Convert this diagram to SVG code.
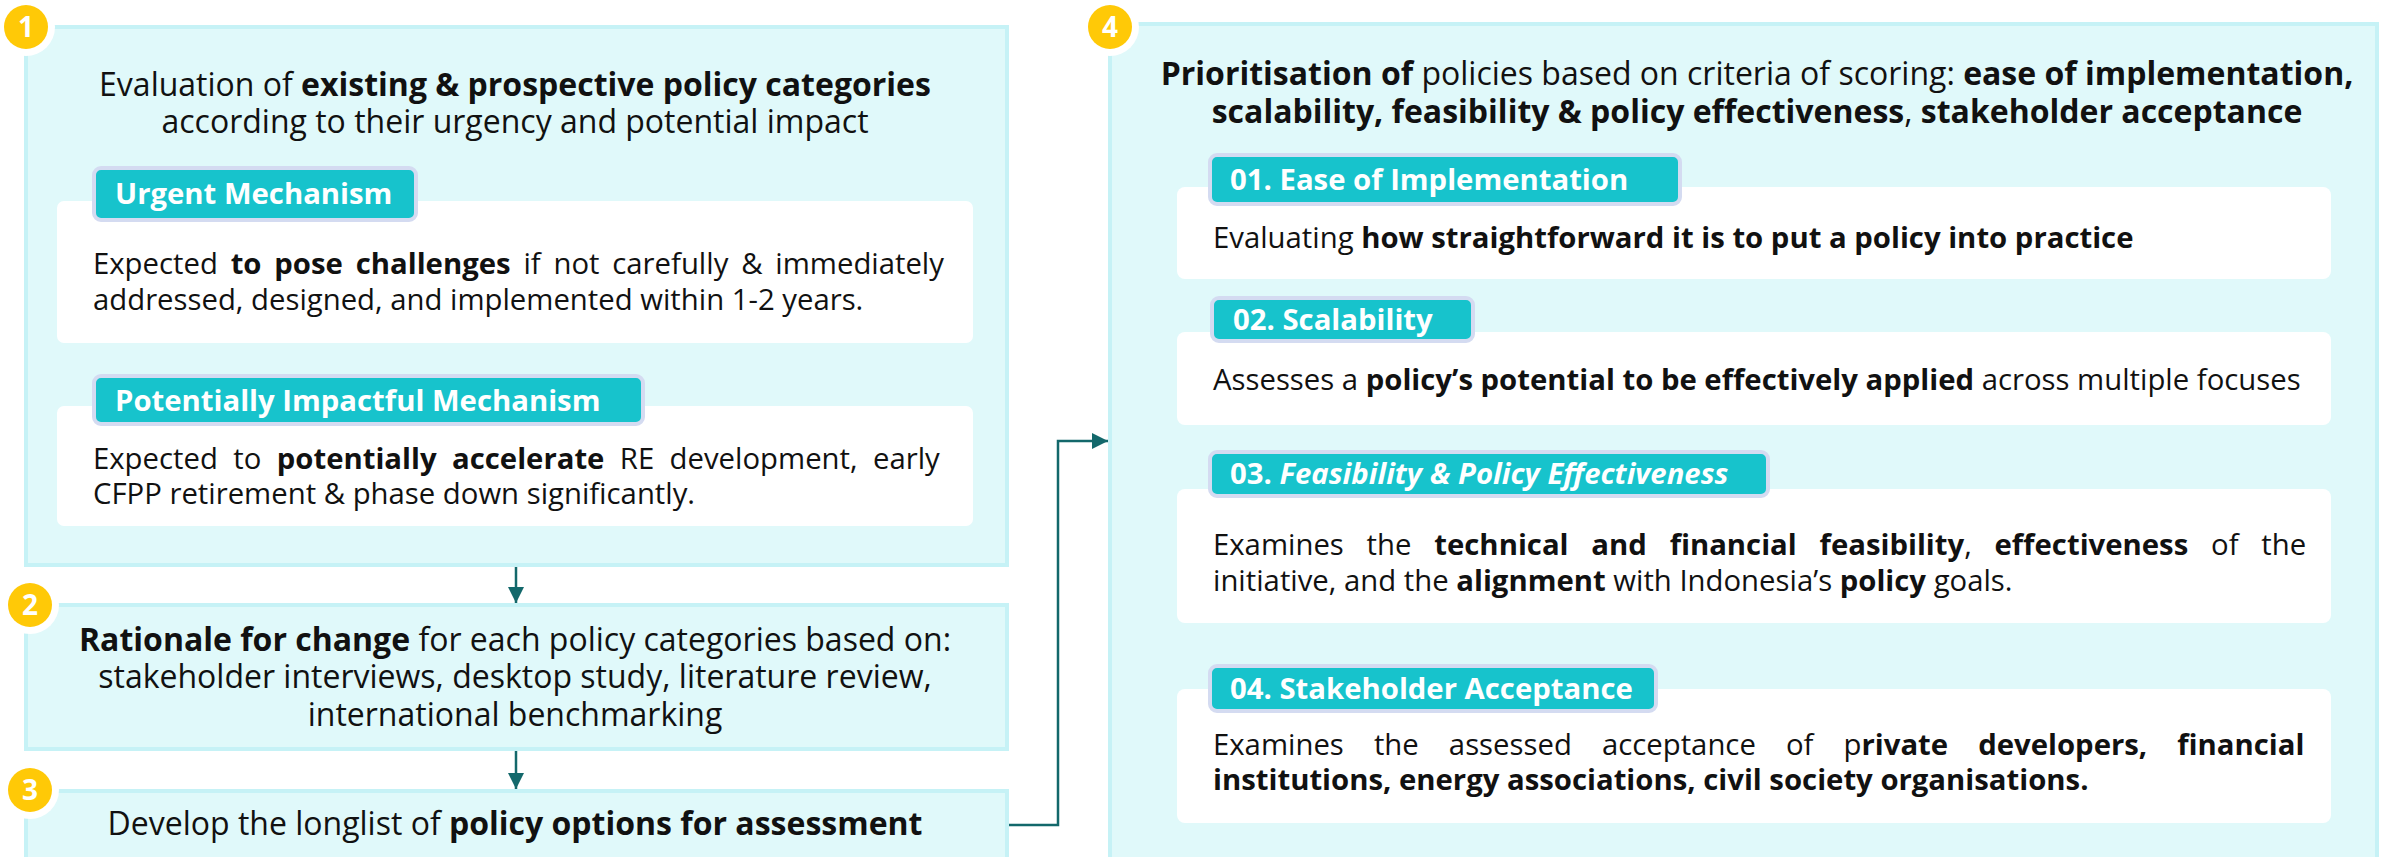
<svg xmlns="http://www.w3.org/2000/svg" width="2392" height="857" viewBox="0 0 2392 857">
  <defs>
    <style>
      text { font-family: "Open Sans", "Noto Sans", "Liberation Sans", sans-serif; fill: #111111; }
      .b { font-weight: 700; }
      .i { font-style: italic; }
      .panel { fill: #e0f9fa; stroke: #c6f2f6; stroke-width: 4; }
      .card { fill: #ffffff; }
      .tag { fill: #17c3cc; stroke: #d4dbf1; stroke-width: 4; }
      .tagtxt { fill: #ffffff; font-weight: 700; font-size: 29.3px; }
      .head { font-size: 32px; text-anchor: middle; }
      .head4 { font-size: 32px; text-anchor: middle; }
      .body { font-size: 29.3px; }
      .ring { fill: #ffffff; }
      .dot { fill: #ffc907; }
      .num { fill: #ffffff; font-weight: 700; font-size: 28px; text-anchor: middle; }
      .link { fill: none; stroke: #13686b; stroke-width: 2.5; }
    </style>
    <marker id="arrow" viewBox="0 0 16 16" refX="16" refY="8" markerWidth="16" markerHeight="16" markerUnits="userSpaceOnUse" orient="auto">
      <path d="M0,0 L16,8 L0,16 Z" fill="#13686b"/>
    </marker>
  </defs>

  <rect width="2392" height="857" fill="#ffffff"/>

  <!-- Step 1: evaluation of policy categories -->
  <g id="step1">
    <rect class="panel" x="26" y="27" width="981" height="538"/>
    <text class="head" x="515" y="96">Evaluation of <tspan class="b">existing &amp; prospective policy categories</tspan></text>
    <text class="head" x="515" y="133">according to their urgency and potential impact</text>

    <rect class="card" x="57" y="201" width="916" height="142" rx="7"/>
    <rect class="tag" x="94" y="168" width="322" height="52" rx="7"/>
    <text class="tagtxt" x="115" y="204">Urgent Mechanism</text>
    <text class="body" x="93" y="274" word-spacing="5.2">Expected <tspan class="b">to pose challenges</tspan> if not carefully &amp; immediately</text>
    <text class="body" x="93" y="310">addressed, designed, and implemented within 1-2 years.</text>

    <rect class="card" x="57" y="406" width="916" height="120" rx="7"/>
    <rect class="tag" x="94" y="376" width="549" height="48" rx="7"/>
    <text class="tagtxt" x="115" y="411">Potentially Impactful Mechanism</text>
    <text class="body" x="93" y="469" word-spacing="7.8">Expected to <tspan class="b">potentially accelerate</tspan> RE development, early</text>
    <text class="body" x="93" y="504">CFPP retirement &amp; phase down significantly.</text>
  </g>

  <!-- Step 2: rationale for change -->
  <g id="step2">
    <rect class="panel" x="26" y="605" width="981" height="144"/>
    <text class="head" x="515" y="651"><tspan class="b">Rationale for change</tspan> for each policy categories based on:</text>
    <text class="head" x="515" y="688">stakeholder interviews, desktop study, literature review,</text>
    <text class="head" x="515" y="726">international benchmarking</text>
  </g>

  <!-- Step 3: longlist of policy options -->
  <g id="step3">
    <rect class="panel" x="26" y="791" width="981" height="90"/>
    <text class="head" x="515" y="835">Develop the longlist of <tspan class="b">policy options for assessment</tspan></text>
  </g>

  <!-- Step 4: prioritisation by scoring criteria -->
  <g id="step4">
    <rect class="panel" x="1110" y="24" width="1267" height="860"/>
    <text class="head4" x="1757" y="85"><tspan class="b">Prioritisation of</tspan> policies based on criteria of scoring: <tspan class="b">ease of implementation,</tspan></text>
    <text class="head4" x="1757" y="123"><tspan class="b">scalability, feasibility &amp; policy effectiveness</tspan>, <tspan class="b">stakeholder acceptance</tspan></text>

    <g id="criterion1">
      <rect class="card" x="1177" y="187" width="1154" height="92" rx="8"/>
      <rect class="tag" x="1210" y="155" width="470" height="49" rx="7"/>
      <text class="tagtxt" x="1230" y="190">01. Ease of Implementation</text>
      <text class="body" x="1213" y="248">Evaluating <tspan class="b">how straightforward it is to put a policy into practice</tspan></text>
    </g>

    <g id="criterion2">
      <rect class="card" x="1177" y="332" width="1154" height="93" rx="8"/>
      <rect class="tag" x="1212" y="298" width="261" height="43" rx="7"/>
      <text class="tagtxt" x="1233" y="330">02. Scalability</text>
      <text class="body" x="1213" y="390">Assesses a <tspan class="b">policy’s potential to be effectively applied</tspan> across multiple focuses</text>
    </g>

    <g id="criterion3">
      <rect class="card" x="1177" y="489" width="1154" height="134" rx="8"/>
      <rect class="tag" x="1210" y="452" width="558" height="44" rx="7"/>
      <text class="tagtxt" x="1230" y="484">03. <tspan class="i">Feasibility &amp; Policy Effectiveness</tspan></text>
      <text class="body" x="1213" y="555" word-spacing="15.2">Examines the <tspan class="b">technical and financial feasibility</tspan>, <tspan class="b">effectiveness</tspan> of the</text>
      <text class="body" x="1213" y="591">initiative, and the <tspan class="b">alignment</tspan> with Indonesia’s <tspan class="b">policy</tspan> goals.</text>
    </g>

    <g id="criterion4">
      <rect class="card" x="1177" y="689" width="1154" height="134" rx="8"/>
      <rect class="tag" x="1210" y="666" width="446" height="45" rx="7"/>
      <text class="tagtxt" x="1230" y="699">04. Stakeholder Acceptance</text>
      <text class="body" x="1213" y="755" word-spacing="22.5">Examines the assessed acceptance of p<tspan class="b">rivate developers, financial</tspan></text>
      <text class="body" x="1213" y="790"><tspan class="b">institutions, energy associations, civil society organisations.</tspan></text>
    </g>
  </g>

  <!-- Step number badges -->
  <g id="badge1"><circle class="ring" cx="26" cy="27" r="29"/><circle class="dot" cx="26" cy="27" r="22"/><text class="num" x="26" y="37">1</text></g>
  <g id="badge2"><circle class="ring" cx="30" cy="605" r="29"/><circle class="dot" cx="30" cy="605" r="22"/><text class="num" x="30" y="615">2</text></g>
  <g id="badge3"><circle class="ring" cx="30" cy="790" r="29"/><circle class="dot" cx="30" cy="790" r="22"/><text class="num" x="30" y="800">3</text></g>
  <g id="badge4"><circle class="ring" cx="1110" cy="27" r="29"/><circle class="dot" cx="1110" cy="27" r="22"/><text class="num" x="1110" y="37">4</text></g>

  <!-- Connectors -->
  <g id="connectors">
    <path class="link" d="M516,567 V603" marker-end="url(#arrow)"/>
    <path class="link" d="M516,751 V789" marker-end="url(#arrow)"/>
    <path class="link" d="M1009,825 H1058 V441 H1108" marker-end="url(#arrow)"/>
  </g>
</svg>
